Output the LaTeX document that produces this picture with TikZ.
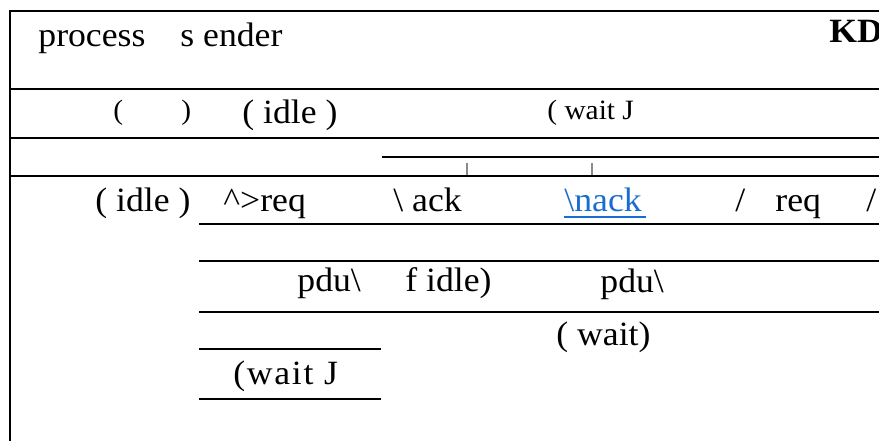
\documentclass[tikz,border=0pt]{standalone}
\usepackage{fontspec}
\setmainfont[FakeStretch=1.05]{Liberation Serif}
\usepackage{tikz}
\definecolor{linkBlue}{HTML}{1A6DD0}
\definecolor{tickGray}{HTML}{8A8A8A}

\begin{document}
\begin{tikzpicture}[x=0.5pt,y=-0.5pt,
  rule/.style={line width=1.1pt},
  tickmark/.style={draw=tickGray,line width=0.6pt},
  txt/.style={anchor=base west,inner sep=0pt,font=\fontsize{17}{20}\selectfont},
  smalltxt/.style={anchor=base west,inner sep=0pt,font=\fontsize{14}{16}\selectfont}]
  \useasboundingbox (0,0) rectangle (879,441);

  % Outer frame and full-width rules
  \draw[rule] (879,11) -- (10,11) -- (10,441);
  \draw[rule] (10,89) -- (879,89);
  \draw[rule] (10,138) -- (879,138);
  \draw[rule] (382,157) -- (879,157);
  \draw[rule] (10,176) -- (879,176);
  \draw[tickmark] (467,163) -- (467,175);
  \draw[tickmark] (592,163) -- (592,175);

  % Header
  \node[txt] (procName) at (38,46) {process};
  \node[txt] (procSender) at (180,46) {s ender};
  \node[txt,font=\fontsize{17}{20}\selectfont\bfseries] (procKD) at (829,42) {KD};

  % State row
  \node[smalltxt] (openParen) at (113,119) {(};
  \node[smalltxt] (closeParen) at (181,119) {)};
  \node[txt] (stateIdle) at (242,123) {( idle )};
  \node[smalltxt] (stateWait) at (547,119) {( wait J};

  % Input row
  \node[txt] (inIdle) at (95,211) {( idle )};
  \node[txt] (inReq) at (223,211) {\textasciicircum>req};
  \node[txt] (inAck) at (393,211) {\textbackslash\ ack};
  \node[txt,text=linkBlue] (inNack) at (564,211) {\textbackslash nack};
  \draw[draw=linkBlue,line width=0.9pt] (564,217) -- (646,217);
  \node[txt] (slashA) at (735,211) {/};
  \node[txt] (inReqB) at (775,211) {req};
  \node[txt] (slashB) at (866,211) {/};

  % Transition rules
  \draw[rule] (199,224) -- (879,224);
  \draw[rule] (199,261) -- (879,261);
  \node[txt] (pduA) at (297,291) {pdu\textbackslash};
  \node[txt] (fIdle) at (405,291) {f idle)};
  \node[txt] (pduB) at (600,292) {pdu\textbackslash};
  \draw[rule] (199,312) -- (879,312);
  \node[txt] (nextWait) at (556,345) {( wait)};
  \draw[rule] (199,349) -- (381,349);
  \node[txt,font=\fontsize{17}{20}\selectfont\addfontfeatures{LetterSpace=5}] (waitJ) at (233,384) {(wait J};
  \draw[rule] (199,399) -- (381,399);
\end{tikzpicture}
\end{document}
